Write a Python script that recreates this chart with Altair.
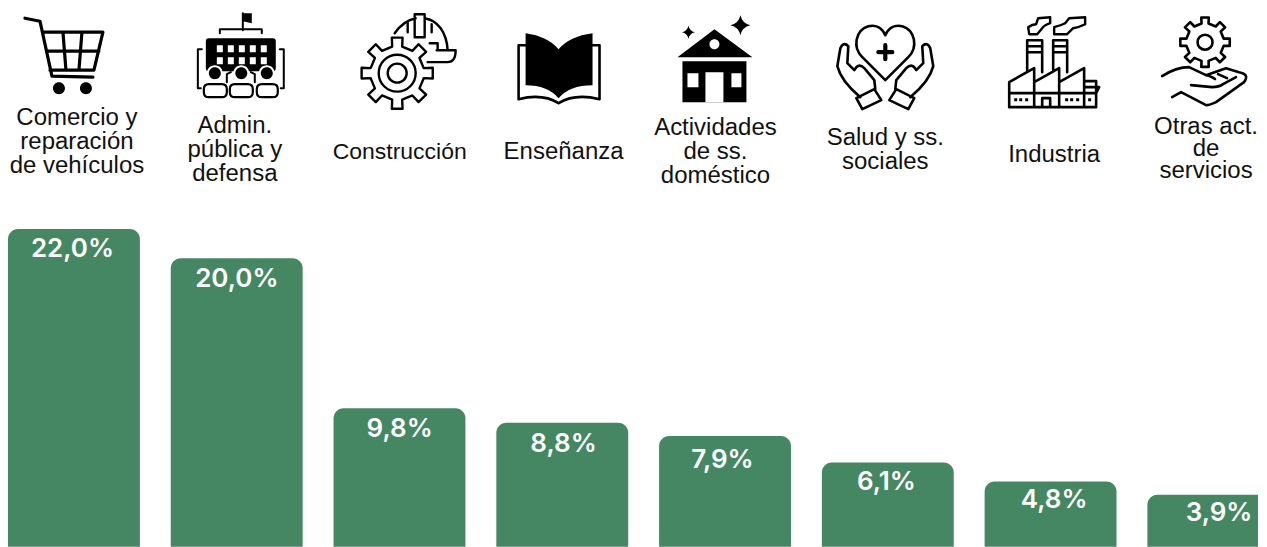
import math
import altair as alt
import pandas as pd

categories = ["Comercio y\nreparación\nde vehículos", "Admin.\npública y\ndefensa", "Construcción", "Enseñanza",
              "Actividades\nde ss.\ndoméstico", "Salud y ss.\nsociales", "Industria", "Otras act.\nde\nservicios"]
values = [22.0, 20.0, 9.8, 8.8, 7.9, 6.1, 4.8, 3.9]
value_labels = ["22,0%", "20,0%", "9,8%", "8,8%", "7,9%", "6,1%", "4,8%", "3,9%"]
value_label_x = [72.5, 237, 400, 564, 723, 887, 1055, 1220]
value_label_y = [249, 279, 429, 444, 460, 482, 500, 513]
label_x = [77, 235, 400, 564, 716, 886, 1055, 1207]
label_y = [118, 126, 152, 152, 128, 138, 155, 127]
label_lh = [24, 24, 24, 24, 24, 24, 24, 22]
label_fs = [24, 24, 23, 24, 24, 24, 24, 24]

BOX = 120
STEP = 162.9
PX = 14.7
ZERO = 552.3
ICON_CENTRES = [(65, 55), (241, 55), (408, 60), (559, 60), (716, 60), (886, 65), (1055, 60), (1205, 60)]


def circle(cx, cy, r):
    k = 0.5523 * r
    return (f"M {cx+r} {cy} C {cx+r} {cy+k} {cx+k} {cy+r} {cx} {cy+r} C {cx-k} {cy+r} {cx-r} {cy+k} {cx-r} {cy} "
            f"C {cx-r} {cy-k} {cx-k} {cy-r} {cx} {cy-r} C {cx+k} {cy-r} {cx+r} {cy-k} {cx+r} {cy} Z ")


def rect(x0, y0, x1, y1):
    return f"M {x0} {y0} L {x1} {y0} L {x1} {y1} L {x0} {y1} Z "


def rrect(x0, y0, x1, y1, r):
    return (f"M {x0+r} {y0} L {x1-r} {y0} Q {x1} {y0} {x1} {y0+r} L {x1} {y1-r} Q {x1} {y1} {x1-r} {y1} "
            f"L {x0+r} {y1} Q {x0} {y1} {x0} {y1-r} L {x0} {y0+r} Q {x0} {y0} {x0+r} {y0} Z ")


def gear(cx, cy, r_out, r_in, n):
    pts = []
    step = 2 * math.pi / n
    for i in range(n):
        a = -math.pi / 2 + i * step
        w = step * 0.19
        pts += [(r_in, a - w * 1.25), (r_out, a - w), (r_out, a + w), (r_in, a + w * 1.25)]
    out = ""
    for j, (r, a) in enumerate(pts):
        out += f"{'M' if j == 0 else 'L'} {cx + r * math.cos(a):.2f} {cy + r * math.sin(a):.2f} "
    return out + "Z "


def star(cx, cy, r):
    q = r * 0.18
    return (f"M {cx} {cy-r} Q {cx+q} {cy-q} {cx+r} {cy} Q {cx+q} {cy+q} {cx} {cy+r} "
            f"Q {cx-q} {cy+q} {cx-r} {cy} Q {cx-q} {cy-q} {cx} {cy-r} Z ")


def mirror(path, axis):
    toks = path.split()
    out, is_x = [], True
    for t in toks:
        if t.isalpha():
            out.append(t)
            is_x = True
        else:
            out.append(f"{2 * axis - float(t):.2f}" if is_x else t)
            is_x = not is_x
    return " ".join(out) + " "


left_hand = ("M 861 97 C 850 88 841 78 838 66 L 841 48 Q 844 41 849 46 L 848 63 L 855 70 "
             "Q 859 62 865 68 L 875 80 L 876 89 M 857 98 L 875 89 L 882 100 L 863 109 Z ")

icon_parts = [
    (0, "M 25 18 L 40 21 L 52 76 L 93 77 M 44 32 L 103 32 L 94 70 L 50 70 M 48 51 L 99 51 "
        "M 63 32 L 66 70 M 82 32 L 79 70 ", "line", 3.2),
    (0, circle(59, 88, 6) + circle(86, 88, 6), "black", 0),
    (1, "M 243 13 L 252 13 L 252 23 L 243 21 Z " + rrect(206, 38, 276, 71, 3), "black", 0),
    (1, "M 243 13 L 243 30 M 220 33 L 220 29 L 262 29 L 262 33 M 202 49 L 198 49 L 198 88 L 201 88 "
        "M 280 49 L 284 49 L 284 88 L 281 88 M 227 82 L 227 74 L 231 72 M 255 82 L 255 74 L 251 72 ", "line", 2),
    (1, "".join(rect(x, y, x + 6, y + 7) for x in (217, 228, 239, 250, 261) for y in (45, 57)) +
        circle(215, 73, 8) + circle(241.5, 73, 8) + circle(267, 73, 8), "white", 0),
    (1, circle(215, 73, 6) + circle(241.5, 73, 6) + circle(267, 73, 6), "black", 0),
    (1, rrect(204, 84, 227, 97, 5) + rrect(230, 84, 253, 97, 5) + rrect(257, 84, 278, 97, 5), "line", 2.2),
    (2, gear(397.5, 73, 36, 27, 8) + circle(397.5, 73, 18.5) + circle(397.5, 73, 9.5), "line", 2.4),
    (2, "M 395 33 C 402 23 411 19 416 18 M 425 18 C 438 20 447 32 448 50 M 437 50 L 456 50 Q 456 62 448 62 L 428 62 "
        "M 430 43 L 438 43 L 438 50 M 408 22 L 408 32 M 432 24 L 432 32 " + rect(415, 14, 425, 37), "line", 2.4),
    (3, "M 526 45 L 519 45 L 519 99 Q 543 93 559 103 Q 575 93 600 99 L 600 45 L 593 45 ", "line", 2.6),
    (3, "M 526 33 Q 548 36 559 49 Q 570 36 593 33 L 593 85 Q 570 85 559 98 Q 548 85 526 85 Z", "black", 0),
    (4, "M 678 57 L 715 29 L 753 57 Z " + rect(683, 61, 747, 102) + star(689, 32, 6.5) + star(741, 25, 10), "black", 0),
    (4, circle(715, 44, 5) + rect(706, 72, 724, 102) + rect(688, 73, 699, 87) + rect(732, 73, 742, 87), "white", 0),
    (5, "M 886 80 L 863 57 C 853 47 856 30 869 26 C 877 24 883 28 886 35 C 889 28 895 24 903 26 "
        "C 916 30 919 47 909 57 Z ", "line", 2.6),
    (5, "M 886 45 L 886 59 M 879 52 L 893 52 ", "line", 4.2),
    (5, left_hand + mirror(left_hand, 886), "line", 2.6),
    (6, "M 1010 107 L 1010 82 L 1035 68 L 1035 82 L 1060 68 L 1060 82 L 1085 68 L 1085 81 L 1097 81 L 1097 107 Z "
        "M 1010 93 L 1097 93 M 1035 82 L 1035 107 M 1060 82 L 1060 107 M 1085 81 L 1085 107 M 1085 87 L 1100 87 L 1097 93 "
        "M 1028 70 L 1028 40 L 1043 40 L 1043 72 M 1054 70 L 1054 40 L 1068 40 L 1068 72 "
        "M 1028 46 L 1043 46 M 1028 52 L 1043 52 M 1054 46 L 1068 46 M 1054 52 L 1068 52 "
        "M 1043 107 L 1043 98 L 1051 98 L 1051 107 ", "line", 2.6),
    (6, "M 1030 34 L 1029 27 Q 1033 24 1037 24 L 1039 18 L 1051 17 L 1051 23 Q 1045 25 1043 28 L 1038 34 Z "
        "M 1055 34 L 1055 27 Q 1062 25 1066 23 L 1070 18 L 1086 17 L 1086 24 Q 1080 27 1074 28 L 1068 34 Z ", "line", 2.4),
    (6, "".join(rect(x, 98, x + 3, 101) for x in (1015, 1020, 1026, 1066, 1071, 1077, 1089)), "black", 0),
    (7, gear(1206, 42, 25, 19, 8) + circle(1206, 42, 7.5), "line", 2.6),
    (7, "M 1163 76 Q 1177 67 1190 67 L 1207 75 L 1227 68 L 1240 72 Q 1251 74 1245 82 L 1217 102 Q 1211 105 1207 105 "
        "L 1182 92 L 1173 97 M 1192 85 L 1213 87 Q 1220 87 1224 84 L 1237 77 M 1207 75 Q 1213 76 1216 79 M 1219 74 L 1228 78 ", "line", 2.6),
]


def to_unit(path, centre):
    toks = path.split()
    out, is_x = [], True
    for t in toks:
        if t.isalpha():
            out.append(t)
            is_x = True
        else:
            c = centre[0] if is_x else centre[1]
            out.append(f"{(float(t) - c) / (BOX / 2):.4f}")
            is_x = not is_x
    return " ".join(out)


df = pd.DataFrame({"pos": list(range(len(values))), "value": values, "lab": value_labels})
df["end"] = df["pos"] + 132 / STEP
df["tx"] = [(p - 8) / STEP for p in value_label_x]
df["ty"] = [(ZERO - p) / PX for p in value_label_y]

W, H = 1251, 539
xs = alt.Scale(domain=[0, W / STEP], nice=False, zero=False, clamp=True)
ys = alt.Scale(domain=[(ZERO - 547) / PX, (ZERO - 8) / PX], nice=False, zero=False, clamp=True)


def bar_layer(frame, **corners):
    return alt.Chart(frame).mark_bar(color="#468763", **corners).encode(
        x=alt.X("pos:Q", axis=None, scale=xs), x2="end:Q",
        y=alt.Y("value:Q", axis=None, scale=ys), y2=alt.value(H))


layers = [bar_layer(df.iloc[:-1], cornerRadiusTopLeft=10, cornerRadiusTopRight=10),
          bar_layer(df.iloc[-1:], cornerRadiusTopLeft=10)]
layers.append(alt.Chart(df).mark_text(font="Inter", fontSize=26, fontWeight=600, color="white", baseline="middle",
                                      align="center").encode(
    x=alt.X("tx:Q", axis=None, scale=xs), y=alt.Y("ty:Q", axis=None, scale=ys), text="lab:N"))

blank = alt.Chart(pd.DataFrame({"a": [0]}))
for cat, lx, ly, lh, fs in zip(categories, label_x, label_y, label_lh, label_fs):
    layers.append(blank.mark_text(text=cat, lineBreak="\n", lineHeight=lh, font="Liberation Sans", fontSize=fs,
                                  color="#111111", align="center", baseline="middle")
                  .encode(x=alt.value(lx - 8), y=alt.value(ly - 8)))

for idx, path, kind, sw in icon_parts:
    c = ICON_CENTRES[idx]
    shape = to_unit(path, c)
    if kind == "line":
        kw = dict(filled=False, stroke="black", strokeWidth=sw, strokeJoin="round", strokeCap="round")
    else:
        kw = dict(filled=True, fill=kind, strokeWidth=0)
    layers.append(blank.mark_point(shape=shape, size=BOX ** 2, opacity=1, **kw)
                  .encode(x=alt.value(c[0] - 8), y=alt.value(c[1] - 8)))

chart = (alt.layer(*layers)
         .properties(width=W, height=H, padding=0, background="white")
         .configure_view(stroke=None))

chart.save("out.html", embed_options={"renderer": "svg", "actions": False})
